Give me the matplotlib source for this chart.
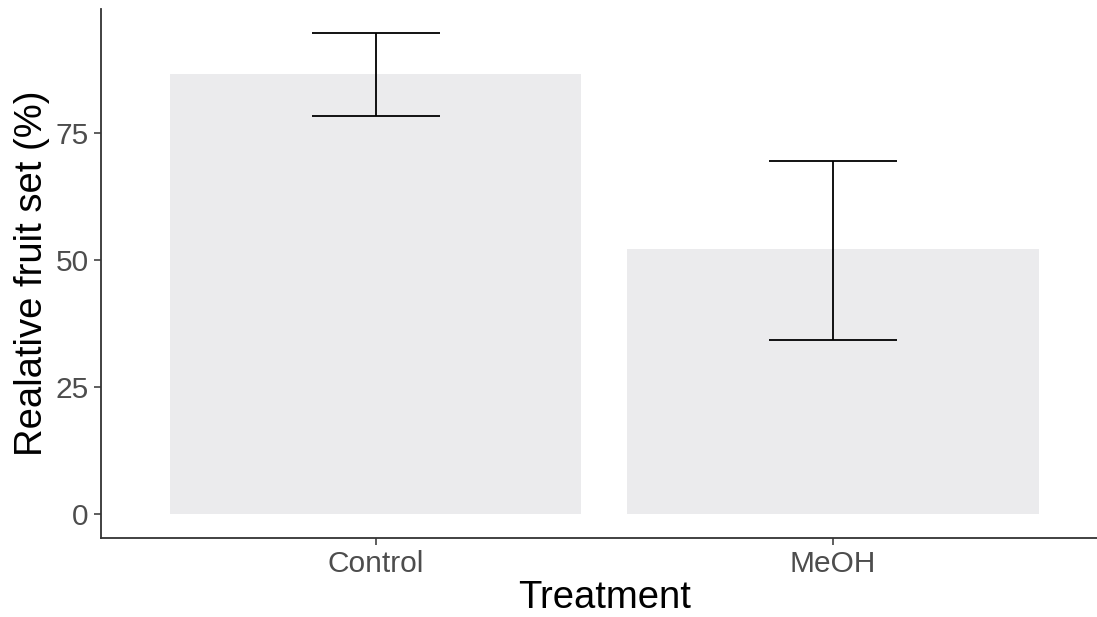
import matplotlib.pyplot as plt

# 処理ごとの相対結実率（平均と誤差範囲）
treatments = ['Control', 'MeOH']
fruit_set = [86.7, 52.3]
err_low = [78.4, 34.2]
err_high = [94.8, 69.5]

plt.rcParams['font.family'] = ['Liberation Sans', 'DejaVu Sans']

fig = plt.figure(figsize=(10.97, 6.17), dpi=100)
ax = fig.add_axes([101 / 1097, 79 / 617, 1006.5 / 1097, 529 / 617])

x = [1, 2]
ax.bar(x, fruit_set, width=0.9, color='#EBEBED', zorder=1)
yerr = [[m - lo for m, lo in zip(fruit_set, err_low)],
        [hi - m for m, hi in zip(fruit_set, err_high)]]
ax.errorbar(x, fruit_set, yerr=yerr, fmt='none', ecolor='black',
            elinewidth=1.3, capsize=46, capthick=1.3, zorder=2)

ax.set_xlim(0.4, 2.6)
ax.set_ylim(-4.74, 99.5)
ax.set_xticks(x)
ax.set_xticklabels(treatments)
ax.set_yticks([0, 25, 50, 75])

for s in ['top', 'right']:
    ax.spines[s].set_visible(False)
for s in ['left', 'bottom']:
    ax.spines[s].set_color('#333333')
    ax.spines[s].set_linewidth(1.3)

ax.tick_params(axis='both', length=5, width=1.1, color='#333333',
               labelcolor='#4D4D4D', labelsize=21.5, pad=4)
ax.set_xlabel('Treatment', fontsize=27.5, color='black', labelpad=1)
ax.set_ylabel('Realative fruit set (%)', fontsize=27.5, color='black', labelpad=4)

fig.savefig('out.png', dpi=100)
